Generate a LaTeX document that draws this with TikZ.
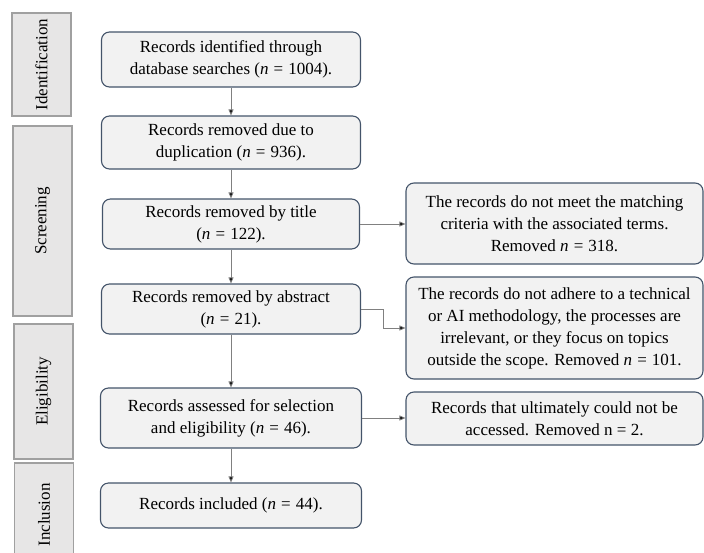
\documentclass[tikz,border=0pt]{standalone}
\usepackage{fontspec}
\setmainfont{Liberation Serif}
\usetikzlibrary{arrows.meta}
\definecolor{boxline}{HTML}{44546A}
\definecolor{boxfill}{HTML}{F2F2F2}
\definecolor{phasefill}{HTML}{E7E6E6}
\definecolor{phaseline}{HTML}{A0A0A0}
\definecolor{linkline}{HTML}{808080}
% count label with roomy spacing around the equals sign
\newcommand{\nn}{\textit{n}\hspace{0.3em}=\hspace{0.3em}}
\begin{document}
\begin{tikzpicture}[x=1pt,y=1pt,
  every node/.style={font=\fontsize{17}{22}\selectfont, inner sep=0pt},
  stepbox/.style={draw=boxline, line width=1.1pt, fill=boxfill, rounded corners=8pt,
    align=center},
  phasebox/.style={draw=phaseline, line width=1.1pt, fill=phasefill, rotate=90,
    minimum height=59pt},
  link/.style={draw=linkline, line width=0.8pt,
    -{Triangle[length=6pt,width=5pt,fill=black]}}
]
\useasboundingbox (0,0) rectangle (704,-552);

% phase labels on the left
\node[phasebox, minimum width=103pt] (s1) at (41.5,-64.5) {Identification};
\node[phasebox, minimum width=190pt] (s2) at (42.5,-221) {Screening};
\node[phasebox, minimum width=135pt] (s3) at (43.5,-391.5) {Eligibility};
\node[phasebox, minimum width=104pt] (s4) at (44,-515) {Inclusion};

% main sequence of steps
\node[stepbox, minimum width=259pt, minimum height=55pt] (b1) at (231,-59.5)
  {Records identified through\\database searches (\nn1004).};
\node[stepbox, minimum width=259pt, minimum height=53pt] (b2) at (231,-142.5)
  {Records removed due to\\duplication (\nn936).};
\node[stepbox, minimum width=257pt, minimum height=50pt] (b3) at (231,-224)
  {Records removed by title\\(\nn122).};
\node[stepbox, minimum width=259pt, minimum height=50pt] (b4) at (231,-309)
  {Records removed by abstract\\(\nn21).};
\node[stepbox, minimum width=261pt, minimum height=60pt] (b5) at (231,-418)
  {Records assessed for selection\\and eligibility (\nn46).};
\node[stepbox, minimum width=261pt, minimum height=45pt] (b6) at (231,-505.5)
  {Records included (\nn44).};

% exclusion boxes on the right
\node[stepbox, minimum width=297pt, minimum height=81pt] (r1) at (554.5,-223.5)
  {The records do not meet the matching\\criteria with the associated terms.\\Removed \nn318.};
\node[stepbox, minimum width=297pt, minimum height=102pt] (r2) at (554.5,-328)
  {The records do not adhere to a technical\\or AI methodology, the processes are\\irrelevant, or they focus on topics\\outside the scope. Removed \nn101.};
\node[stepbox, minimum width=297pt, minimum height=53pt] (r3) at (554.5,-418.5)
  {Records that ultimately could not be\\accessed. Removed n = 2.};

% connectors
\draw[link] (b1) -- (b2);
\draw[link] (b2) -- (b3);
\draw[link] (b3) -- (b4);
\draw[link] (b4) -- (b5);
\draw[link] (b5) -- (b6);
\draw[link] (b3.east) -- (r1.west |- b3.east);
\coordinate (bend) at (383,-309);
\draw[link] (b4.east) -- (bend) |- (r2.west);
\draw[link] (b5.east) -- (r3.west |- b5.east);
\end{tikzpicture}
\end{document}
